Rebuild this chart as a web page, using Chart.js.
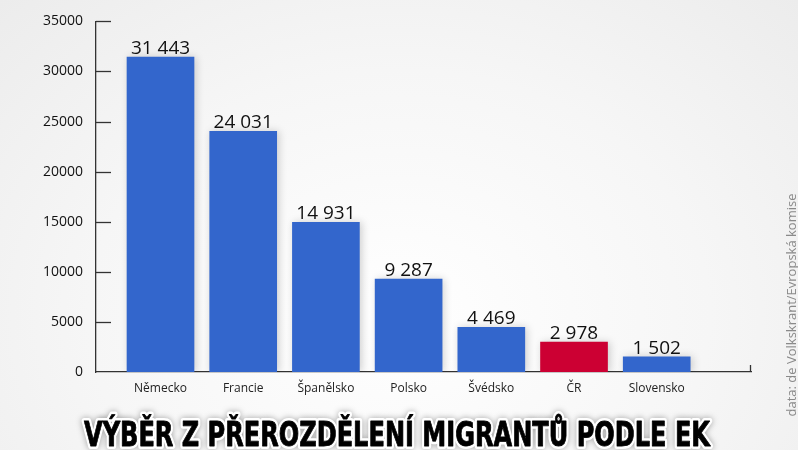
<!DOCTYPE html>
<html>
<head>
<meta charset="utf-8">
<script src="https://cdn.jsdelivr.net/npm/chart.js@4/dist/chart.umd.min.js"></script>
<style>
  html, body { margin: 0; padding: 0; }
  body { width: 798px; height: 450px; overflow: hidden;
         background: radial-gradient(ellipse at 50% 70%, #ffffff 0%, #f6f6f6 55%, #ececec 100%); }
  #wrap { position: relative; width: 798px; height: 450px; }
</style>
</head>
<body>
<div id="wrap"><canvas id="migChart" width="798" height="450"></canvas></div>
<script>
var countries = ['Německo', 'Francie', 'Španělsko', 'Polsko', 'Švédsko', 'ČR', 'Slovensko'];
var migrants = [31443, 24031, 14931, 9287, 4469, 2978, 1502];
var yTicks = [0, 5000, 10000, 15000, 20000, 25000, 30000, 35000];
var title = 'VÝBĚR Z PŘEROZDĚLENÍ MIGRANTŮ PODLE EK';
var source = 'data: de Volkskrant/Evropská komise';

var blue = '#3366cc';
var red = '#cc0033';

function fmt(n) {
    return String(n).replace(/\B(?=(\d{3})+(?!\d))/g, ' ');
}

// ticks pointing into the plot, value labels, title and source
var extras = {
    id: 'extras',
    beforeDatasetsDraw: function (chart) {
        var ctx = chart.ctx;
        ctx.save();
        ctx.shadowColor = 'rgba(0,0,0,0.18)';
        ctx.shadowBlur = 8;
        ctx.shadowOffsetX = 2;
    },
    afterDatasetsDraw: function (chart) {
        chart.ctx.restore();
    },
    afterDraw: function (chart) {
        var ctx = chart.ctx;
        var y = chart.scales.y;
        var area = chart.chartArea;

        ctx.save();
        ctx.strokeStyle = '#333';
        ctx.lineWidth = 1.3;
        yTicks.forEach(function (v) {
            if (v === 0) return;
            var py = Math.round(y.getPixelForValue(v)) + 0.5;
            ctx.beginPath();
            ctx.moveTo(area.left, py);
            ctx.lineTo(area.left + 15, py);
            ctx.stroke();
        });
        ctx.beginPath();
        ctx.moveTo(area.right - 0.5, area.bottom);
        ctx.lineTo(area.right - 0.5, area.bottom - 7);
        ctx.stroke();

        // value labels
        ctx.fillStyle = '#111';
        ctx.font = '19px "Open Sans"';
        ctx.textAlign = 'center';
        ctx.textBaseline = 'alphabetic';
        var meta = chart.getDatasetMeta(0);
        meta.data.forEach(function (bar, i) {
            ctx.fillText(fmt(migrants[i]), bar.x, bar.y - 3);
        });

        // title
        ctx.font = 'bold 33px "DejaVu Sans Condensed", "DejaVu Sans"';
        ctx.textAlign = 'center';
        ctx.textBaseline = 'alphabetic';
        ctx.lineJoin = 'round';
        ctx.shadowColor = 'rgba(0,0,0,0.35)';
        ctx.shadowBlur = 6;
        ctx.strokeStyle = '#fff';
        ctx.lineWidth = 6;
        ctx.strokeText(title, 397, 446, 626);
        ctx.shadowColor = 'transparent';
        ctx.shadowBlur = 0;
        ctx.fillStyle = '#000';
        ctx.fillText(title, 397, 446, 626);
        ctx.lineWidth = 0.8;
        ctx.strokeStyle = '#000';
        ctx.strokeText(title, 397, 446, 626);

        // source
        ctx.translate(792, 305);
        ctx.rotate(-Math.PI / 2);
        ctx.font = '13px "Open Sans"';
        ctx.fillStyle = '#8a8a8a';
        ctx.textBaseline = 'middle';
        ctx.fillText(source, 0, 0);
        ctx.restore();
    }
};

var ctx = document.getElementById('migChart').getContext('2d');
var myChart = new Chart(ctx, {
    type: 'bar',
    data: {
        labels: countries,
        datasets: [{
            data: migrants.map(function (v, i) { return { x: i, y: v }; }),
            backgroundColor: countries.map(function (c) { return c === 'ČR' ? red : blue; }),
            barThickness: 67,
            borderWidth: 0
        }]
    },
    options: {
        responsive: false,
        animation: false,
        devicePixelRatio: 1,
        layout: { padding: { left: 0, right: 47, top: 21, bottom: 48 } },
        plugins: { legend: { display: false }, tooltip: { enabled: false } },
        scales: {
            x: {
                type: 'linear',
                offset: false,
                min: -0.78,
                max: 7.14,
                grid: { display: false, drawTicks: false, offset: false },
                border: { display: true, color: '#333', width: 1.3 },
                afterBuildTicks: function (s) {
                    s.ticks = countries.map(function (c, i) { return { value: i }; });
                },
                afterFit: function (s) { s.height = 30; },
                ticks: {
                    autoSkip: false,
                    maxRotation: 0,
                    padding: 9,
                    color: '#222',
                    font: { family: 'Open Sans', size: 12 },
                    callback: function (v) { return countries[v] || ''; }
                }
            },
            y: {
                min: 0,
                max: 35000,
                grid: { display: false, drawTicks: false },
                border: { display: true, color: '#333', width: 1.3 },
                afterBuildTicks: function (s) {
                    s.ticks = yTicks.map(function (v) { return { value: v }; });
                },
                afterFit: function (s) { s.width = 96; },
                ticks: {
                    padding: 13,
                    color: '#111',
                    font: { family: 'Open Sans', size: 14 },
                    callback: function (v) { return String(v); }
                }
            }
        }
    },
    plugins: [extras]
});
</script>
</body>
</html>
